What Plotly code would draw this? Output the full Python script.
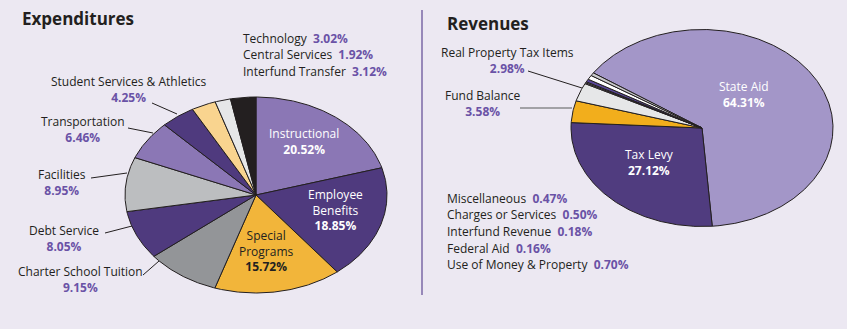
import numpy as np
import plotly.graph_objects as go

# ---------------- data ----------------
exp_labels = ["Instructional", "Employee Benefits", "Special Programs", "Charter School Tuition",
              "Debt Service", "Facilities", "Transportation", "Student Services & Athletics",
              "Technology", "Central Services", "Interfund Transfer"]
exp_values = [20.52, 18.85, 15.72, 9.15, 8.05, 8.95, 6.46, 4.25, 3.02, 1.92, 3.12]
exp_colors = ["#8B77B5", "#4F3A7E", "#F2B53A", "#939598", "#4F3A7E", "#BCBEC0",
              "#8B77B5", "#4F3A7E", "#F9D48F", "#E6E7E8", "#231F20"]

rev_labels = ["State Aid", "Tax Levy", "Fund Balance", "Real Property Tax Items",
              "Federal Aid", "Interfund Revenue", "Miscellaneous",
              "Use of Money & Property", "Charges or Services"]
rev_values = [64.31, 27.12, 3.58, 2.98, 0.16, 0.18, 0.47, 0.70, 0.50]
rev_colors = ["#A396C8", "#503C7F", "#F2AE1C", "#E6E7E8", "#CFC8E0", "#9A9A9C",
              "#5A479A", "#FFFFFF", "#C9C9CB"]

# list orders for the text blocks
exp_top_list = ["Technology", "Central Services", "Interfund Transfer"]
rev_list = ["Miscellaneous", "Charges or Services", "Interfund Revenue", "Federal Aid",
            "Use of Money & Property"]

BG = "#ECE8F2"
INK = "#231F20"
PCT = "#6A52A6"
FONT = "Open Sans"

fig = go.Figure()


def add_pie(labels, values, colors, cx, cy, rx, ry, start):
    total = sum(values)
    a = start
    for lab, v, c in zip(labels, values, colors):
        span = 360.0 * v / total
        n = max(4, int(span * 2))
        th = np.radians(np.linspace(a, a + span, n))
        xs = np.concatenate([[cx], cx + rx * np.sin(th), [cx]])
        ys = np.concatenate([[cy], cy - ry * np.cos(th), [cy]])
        fig.add_trace(go.Scatter(x=xs, y=ys, fill="toself", fillcolor=c, mode="lines",
                                 line=dict(color=INK, width=1), name=lab,
                                 hoverinfo="text", text=f"{lab} {v:.2f}%",
                                 showlegend=False))
        a += span


add_pie(exp_labels, exp_values, exp_colors, 256, 195, 131, 98, 0)
add_pie(rev_labels, rev_values, rev_colors, 702, 128, 131, 98.5, -56)

ev = dict(zip(exp_labels, exp_values))
rv = dict(zip(rev_labels, rev_values))


def pct(v, color=PCT):
    return f"<b><span style='color:{color}'>{v:.2f}%</span></b>"


def ann(x, y, text, xanchor="center", color=INK, size=12, align="center"):
    fig.add_annotation(x=x, y=y, xref="x", yref="y", text=text, showarrow=False,
                       xanchor=xanchor, yanchor="middle", align=align,
                       font=dict(family=FONT, size=size, color=color))


# titles
ann(20, 18, "<b>Expenditures</b>", xanchor="left", size=17)
ann(445, 23, "<b>Revenues</b>", xanchor="left", size=17)

# expenditures outside labels
for lab, x, y in [("Student Services & Athletics", 129, 89), ("Transportation", 83, 129),
                  ("Facilities", 62, 182), ("Debt Service", 64, 238),
                  ("Charter School Tuition", 80, 279)]:
    ann(x, y, f"{lab}<br>{pct(ev[lab])}")

for i, lab in enumerate(exp_top_list):
    ann(241, 38 + 16.5 * i, f"{lab}&nbsp; {pct(ev[lab])}", xanchor="left")

# inside labels
ann(304, 141.5, f"Instructional<br>{pct(ev['Instructional'], 'white')}", color="white")
ann(335, 210, f"Employee<br>Benefits<br>{pct(ev['Employee Benefits'], 'white')}", color="white")
ann(266, 251, f"Special<br>Programs<br>{pct(ev['Special Programs'], INK)}")

# revenues labels
ann(744, 94.5, f"State Aid<br>{pct(rv['State Aid'], 'white')}", color="white")
ann(649, 162, f"Tax Levy<br>{pct(rv['Tax Levy'], 'white')}", color="white")
ann(507, 60, f"Real Property Tax Items<br>{pct(rv['Real Property Tax Items'])}")
ann(483, 103.5, f"Fund Balance<br>{pct(rv['Fund Balance'])}")
for i, lab in enumerate(rev_list):
    ann(445, 198 + 16.7 * i, f"{lab}&nbsp; {pct(rv[lab])}", xanchor="left")

# leader lines and divider
for (x0, y0, x1, y1) in [(152, 103, 177, 114), (128, 128, 153, 133), (91, 178, 127, 173),
                         (105, 233, 132, 226), (143, 275, 159, 261), (528, 71, 582, 88)]:
    fig.add_shape(type="line", x0=x0, y0=y0, x1=x1, y1=y1, xref="x", yref="y",
                  line=dict(color=INK, width=1))
fig.add_shape(type="line", x0=520, y0=108, x1=572, y1=108, xref="x", yref="y",
              line=dict(color="#8A8A8C", width=1.5))
fig.add_shape(type="line", x0=422, y0=10, x1=422, y1=295, xref="x", yref="y",
              line=dict(color="#7B68A6", width=1.5))

fig.update_layout(
    width=847, height=329, margin=dict(l=0, r=0, t=0, b=0),
    paper_bgcolor=BG, plot_bgcolor=BG,
    xaxis=dict(range=[0, 847], visible=False, fixedrange=True),
    yaxis=dict(range=[329, 0], visible=False, fixedrange=True),
    showlegend=False,
)

fig.write_html("out.html")
